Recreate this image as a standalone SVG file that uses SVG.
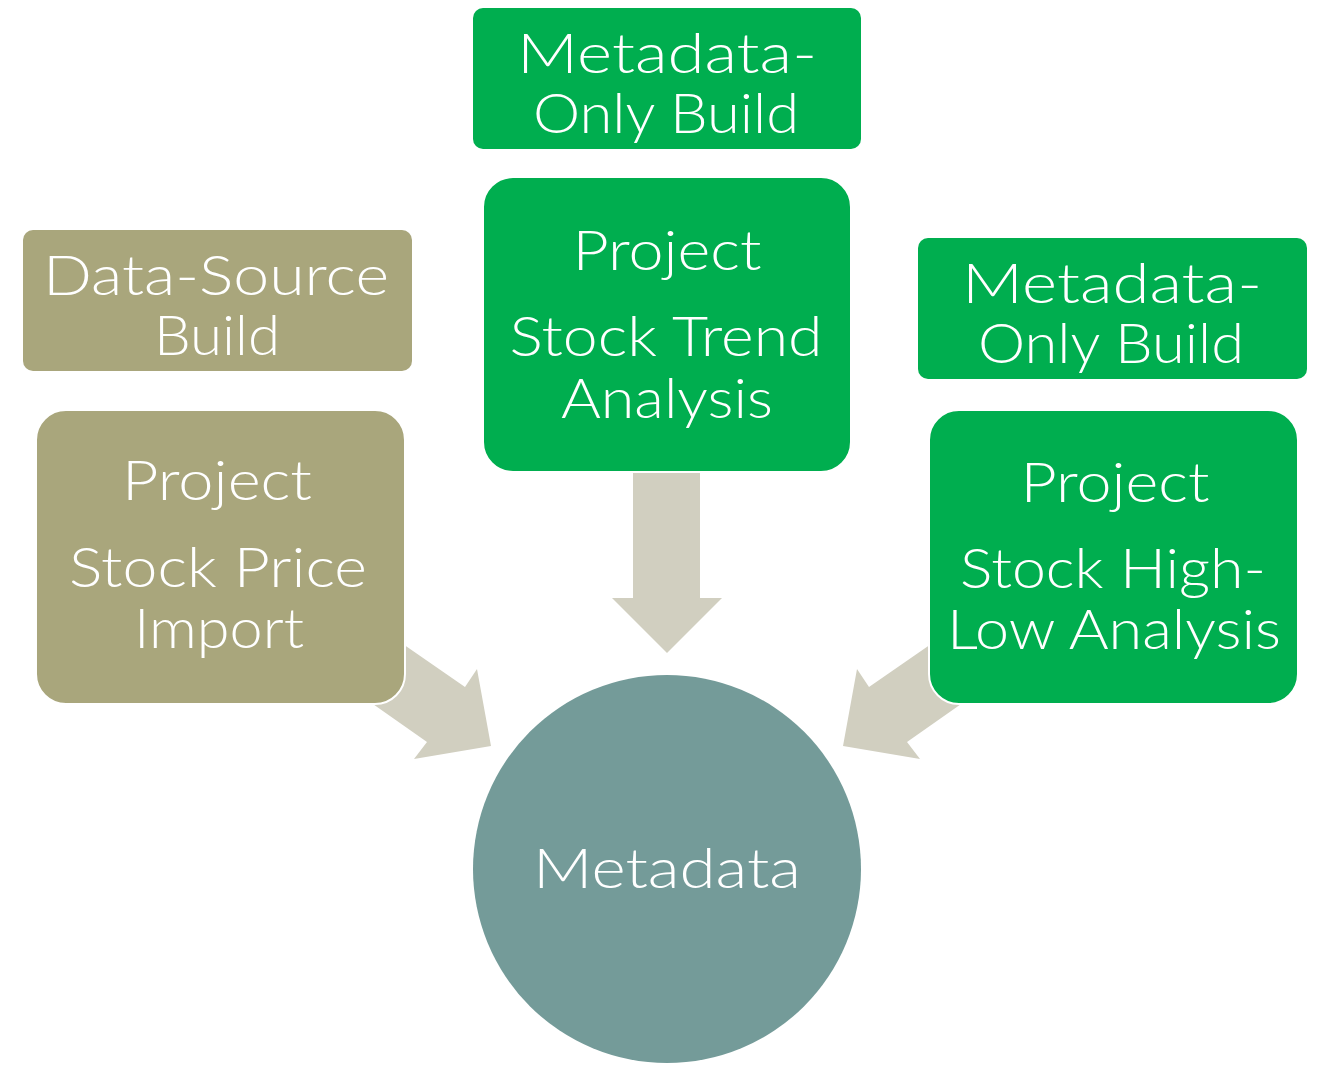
<svg xmlns="http://www.w3.org/2000/svg" width="1334" height="1066" viewBox="0 0 1334 1066">
<style>
.tan{fill:#A9A67C}
.grn{fill:#00AE4F}
.proj{stroke:#FFFFFF;stroke-width:2}
.arrow{fill:#D1CFC0}
.hub{fill:#749B99}
text{font-family:Lato,Inter,"Noto Sans","DejaVu Sans",sans-serif;font-weight:300;font-size:55px;fill:#FFFFFF;text-anchor:middle}
</style>
<rect width="1334" height="1066" fill="#FFFFFF"/>
<g id="connectors">
<polygon class="arrow" points="374,624 465,687 477,669 491,746 414,759 427,742 343,683"/>
<polygon class="arrow" points="960,624 869,687 857,669 843,746 920,759 907,742 991,683"/>
<polygon class="arrow" points="633,460 700,460 700,598 722,598 667,653 612,598 633,598"/>
</g>
<g id="node-datasource-build">
<rect class="tan" x="23" y="230" width="389" height="141" rx="10"/>
<text x="216" y="295" textLength="346" lengthAdjust="spacingAndGlyphs">Data-Source</text>
<text x="217" y="355" textLength="126" lengthAdjust="spacingAndGlyphs">Build</text>
</g>
<g id="node-stock-price-import">
<rect class="tan proj" x="36" y="410" width="369" height="294" rx="30"/>
<text x="217" y="500" textLength="190" lengthAdjust="spacingAndGlyphs">Project</text>
<text x="218" y="587" textLength="298" lengthAdjust="spacingAndGlyphs">Stock Price</text>
<text x="219" y="648" textLength="170" lengthAdjust="spacingAndGlyphs">Import</text>
</g>
<g id="node-metadata-only-build-top">
<rect class="grn" x="473" y="8" width="388" height="141" rx="10"/>
<text x="667" y="73" textLength="300" lengthAdjust="spacingAndGlyphs">Metadata-</text>
<text x="666" y="133" textLength="266" lengthAdjust="spacingAndGlyphs">Only Build</text>
</g>
<g id="node-stock-trend-analysis">
<rect class="grn proj" x="483" y="177" width="368" height="295" rx="30"/>
<text x="667" y="270" textLength="189" lengthAdjust="spacingAndGlyphs">Project</text>
<text x="666" y="356" textLength="313" lengthAdjust="spacingAndGlyphs">Stock Trend</text>
<text x="667" y="418" textLength="212" lengthAdjust="spacingAndGlyphs">Analysis</text>
</g>
<g id="node-metadata-only-build-right">
<rect class="grn" x="918" y="238" width="389" height="141" rx="10"/>
<text x="1112" y="303" textLength="300" lengthAdjust="spacingAndGlyphs">Metadata-</text>
<text x="1111" y="363" textLength="266" lengthAdjust="spacingAndGlyphs">Only Build</text>
</g>
<g id="node-stock-highlow-analysis">
<rect class="grn proj" x="929" y="410" width="369" height="294" rx="30"/>
<text x="1115" y="502" textLength="189" lengthAdjust="spacingAndGlyphs">Project</text>
<text x="1113" y="588" textLength="306" lengthAdjust="spacingAndGlyphs">Stock High-</text>
<text x="1114" y="649" textLength="334" lengthAdjust="spacingAndGlyphs">Low Analysis</text>
</g>
<g id="node-metadata">
<circle class="hub" cx="667" cy="869" r="194"/>
<text x="667" y="888" textLength="268" lengthAdjust="spacingAndGlyphs">Metadata</text>
</g>
</svg>
